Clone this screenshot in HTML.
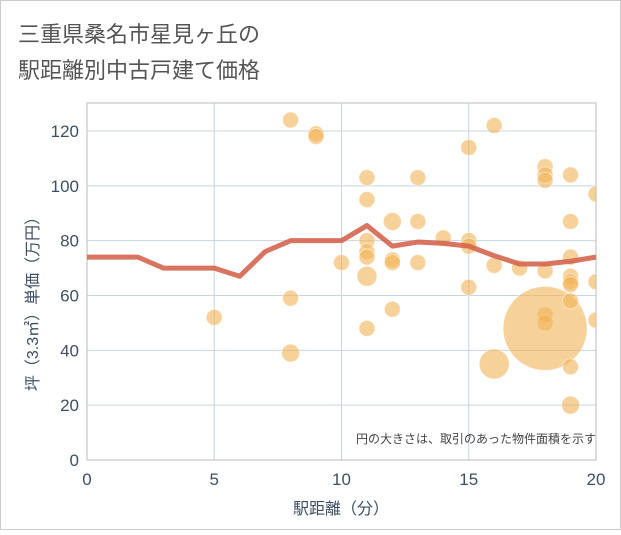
<!DOCTYPE html>
<html><head><meta charset="utf-8"><style>
body{margin:0;background:#fff;font-family:"Liberation Sans","Noto Sans CJK JP",sans-serif}
</style></head><body>
<svg id="c" width="621" height="530" xmlns="http://www.w3.org/2000/svg">
<rect x="0.5" y="0.5" width="620" height="529" fill="#fff" stroke="#ccc"/>
<text x="18" y="42" font-size="22" fill="#555" font-family="Liberation Sans,Noto Sans CJK JP,sans-serif">三重県桑名市星見ヶ丘の</text>
<text x="18" y="78" font-size="22" fill="#555" font-family="Liberation Sans,Noto Sans CJK JP,sans-serif">駅距離別中古戸建て価格</text>
<g id="grid"></g><g id="bub"></g><g id="ln"></g><g id="ax"></g>
<text x="596" y="443" font-size="12" fill="#444" text-anchor="end" font-family="Liberation Sans,Noto Sans CJK JP,sans-serif">円の大きさは、取引のあった物件面積を示す</text>
<text x="341" y="514" font-size="16" fill="#3d4f63" text-anchor="middle" font-family="Liberation Sans,Noto Sans CJK JP,sans-serif">駅距離（分）</text>
<text transform="translate(38,300) rotate(-90)" font-size="16" fill="#3d4f63" text-anchor="middle" font-family="Liberation Sans,Noto Sans CJK JP,sans-serif">坪（3.3㎡）単価（万円）</text>
</svg>
<script>
const lineX=[0,1,2,3,4,5,6,7,8,9,10,11,12,13,14,15,16,17,18,19,20];
const lineY=[74,74,74,70,70,70,67,76,80,80,80,85.5,78,79.5,79,78,74.5,71.5,71.5,72.5,74];
const bubX=[5,8,8,8,9,9,10,11,11,11,11,11,11,11,12,12,12,12,13,13,13,14,15,15,15,15,16,16,16,17,18,18,18,18,18,18,18,19,19,19,19,19,19,19,19,19,20,20,20];
const bubY=[52,124,59,39,119,118,72,103,95,80,76,74,67,48,87,73,72,55,103,87,72,81,114,80,78,63,122,71,35,70,107,104,102,69,53,50,48,104,87,74,67,65,64,58,34,20,97,65,51];
const bubR=[8,8,8,9,8,8,8,8,8,8,8,8,10,8,9,8,8,8,8,8,8,8,8,8,8,8,8,8,15,8,8,8,8,8,8,8,42,8,8,8,8,8,8,8,8,9,8,8,8];
const xTicks=[0,5,10,15,20];
const yTicks=[0,20,40,60,80,100,120];
const NS="http://www.w3.org/2000/svg";
const X0=87,X1=596,Y0=460,Y1=103;
const sx=v=>X0+(X1-X0)*v/20;
const sy=v=>Y0-(Y0-131)*v/120;
function mk(p,t,a){const e=document.createElementNS(NS,t);for(const k in a)e.setAttribute(k,a[k]);document.getElementById(p).appendChild(e);return e;}
const clip=mk('grid','clipPath',{id:'cp'});
const cr=document.createElementNS(NS,'rect');cr.setAttribute('x',X0);cr.setAttribute('y',Y1);cr.setAttribute('width',X1-X0);cr.setAttribute('height',Y0-Y1);clip.appendChild(cr);
document.getElementById('bub').setAttribute('clip-path','url(#cp)');
yTicks.forEach(v=>{
 const l=mk('grid','line',{x1:X0,x2:X1,y1:sy(v),y2:sy(v),stroke:'#c8d4e0','stroke-width':1});
 
 
 const t=mk('ax','text',{x:X0-8,y:sy(v)+6,'text-anchor':'end','font-size':17,fill:'#3d4f63'});
 t.textContent=v;
 
 
});
xTicks.forEach(v=>{
 const l=mk('grid','line',{x1:sx(v),x2:sx(v),y1:Y1,y2:Y0,stroke:'#c8d4e0','stroke-width':1});
 
 
 const t=mk('ax','text',{x:sx(v),y:Y0+25,'text-anchor':'middle','font-size':17,fill:'#3d4f63'});
 t.textContent=v;
 
 
});
const fr=mk('grid','rect',{x:X0,y:Y1,width:X1-X0,height:Y0-Y1,fill:'none',stroke:'#bbb'});


bubX.forEach((x,i)=>{
 const c=mk('bub','circle',{cx:sx(x),cy:sy(bubY[i]),r:bubR[i],fill:'#f2b357','fill-opacity':0.6,stroke:'#fff','stroke-opacity':0.5});
 
 
});
const p=mk('ln','polyline',{points:lineX.map((x,i)=>sx(x)+','+sy(lineY[i])).join(' '),fill:'none',stroke:'#d4654f','stroke-width':5,'stroke-opacity':0.9,'stroke-linejoin':'round'});


</script>
</body></html>
